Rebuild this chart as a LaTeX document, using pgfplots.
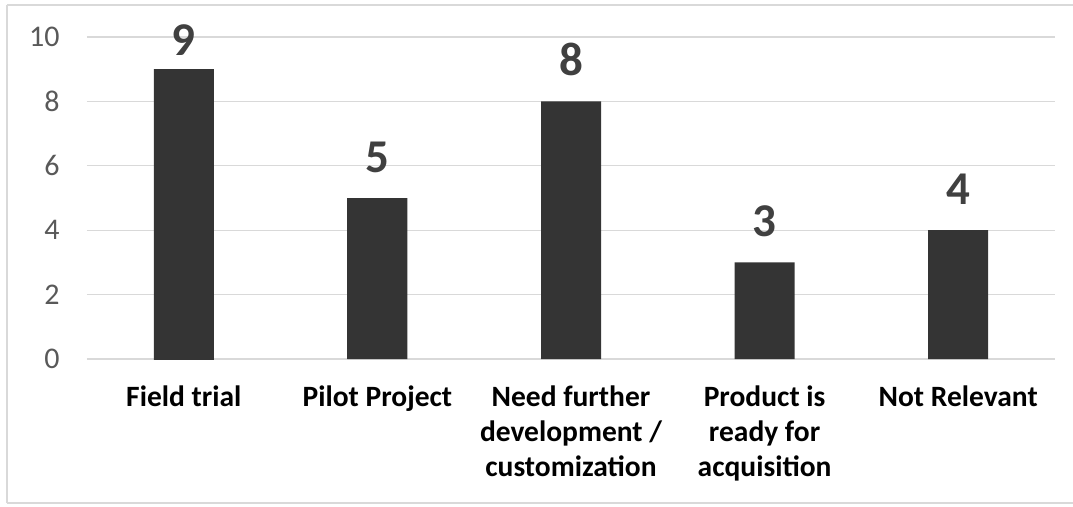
\documentclass[border=0pt]{standalone}
\usepackage{fontspec}
\setmainfont{Carlito}
\usepackage{pgfplots}
\pgfplotsset{compat=1.18}

\definecolor{barfill}{HTML}{464646}
\definecolor{baredge}{HTML}{343434}
\definecolor{gridgray}{HTML}{D9D9D9}
\definecolor{tickgray}{HTML}{595959}
\definecolor{valgray}{HTML}{404040}
\definecolor{framegray}{HTML}{D9D9D9}

\begin{document}
\begin{tikzpicture}[x=1pt,y=1pt]
\useasboundingbox (-87,-147) rectangle (986,359);
\begin{axis}[
  at={(0,0)}, anchor=south west,
  scale only axis, width=968pt, height=322pt,
  ybar, bar width=60pt, bar shift=0pt,
  xmin=-0.5, xmax=4.5, ymin=0, ymax=10,
  ytick={0,2,4,6,8,10},
  xtick={0,1,2,3,4},
  xticklabels={{Field trial},{Pilot Project},{Need further\\development /\\customization},{Product is\\ready for\\acquisition},{Not Relevant}},
  axis line style={draw=none},
  major tick length=0pt,
  ymajorgrids, grid style={gridgray, line width=1.3pt},
  /pgf/number format/assume math mode=true,
  yticklabel style={font=\fontsize{30}{30}\selectfont, color=tickgray, xshift=-24pt},
  xticklabel style={font=\fontsize{29.5}{35}\selectfont\bfseries, align=center, text=black, yshift=-23pt},
  nodes near coords,
  every node near coord/.append style={font=\fontsize{47}{47}\selectfont\bfseries, color=valgray},
  clip=false,
]
% the top bar's label sits lower, kept inside the chart area
\addplot[draw=none, left color=baredge, middle color=barfill, right color=baredge,
  every node near coord/.append style={yshift=10pt}] coordinates {(0,9)};
\addplot[draw=none, left color=baredge, middle color=barfill, right color=baredge,
  every node near coord/.append style={yshift=22pt}] coordinates {(1,5) (2,8) (3,3) (4,4)};
\end{axis}
\draw[framegray, line width=1.3pt] (-80,-144) -- (-80,354);
\draw[framegray, line width=1.3pt] (-80,354) -- (990,354);
\draw[framegray, line width=1.3pt] (-80,-144) -- (990,-144);
\end{tikzpicture}
\end{document}
